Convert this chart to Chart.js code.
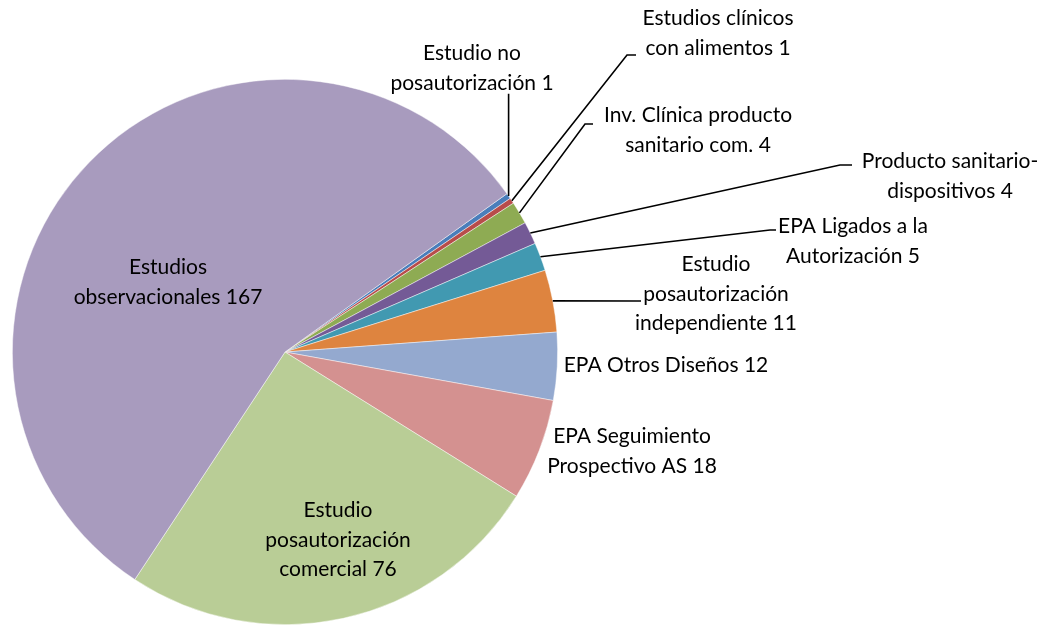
<!DOCTYPE html>
<html>
<head>
<meta charset="utf-8">
<script src="https://cdn.jsdelivr.net/npm/chart.js@4.4.1/dist/chart.umd.min.js"></script>
<style>
  html, body { margin: 0; padding: 0; background: #fff; }
  #wrap { position: relative; width: 1049px; height: 625px; }
</style>
</head>
<body>
<div id="wrap"><canvas id="pieChart"></canvas></div>
<script>
/* ---- data (clockwise from the start angle) ---- */
const categories = [
    'Estudio no posautorización',
    'Estudios clínicos con alimentos',
    'Inv. Clínica producto sanitario com.',
    'Producto sanitario-dispositivos',
    'EPA Ligados a la Autorización',
    'Estudio posautorización independiente',
    'EPA Otros Diseños',
    'EPA Seguimiento Prospectivo AS',
    'Estudio posautorización comercial',
    'Estudios observacionales'
];
const values = [1, 1, 4, 4, 5, 11, 12, 18, 76, 167];
const sliceColors = [
    '#4A7EBB', '#B84C4A', '#8EAB53', '#745A96', '#4199B1',
    '#DE843F', '#94A9CF', '#D49190', '#B9CD96', '#A89BBE'
];

/* ---- label layout: text lines, text centre, optional leader elbow ---- */
const labelLines = [
    ['Estudio no', 'posautorización 1'],
    ['Estudios clínicos', 'con alimentos 1'],
    ['Inv. Clínica producto', 'sanitario com. 4'],
    ['Producto sanitario-', 'dispositivos 4'],
    ['EPA Ligados a la', 'Autorización 5'],
    ['Estudio', 'posautorización', 'independiente 11'],
    ['EPA Otros Diseños 12'],
    ['EPA Seguimiento', 'Prospectivo AS 18'],
    ['Estudio', 'posautorización', 'comercial 76'],
    ['Estudios', 'observacionales 167']
];
const labelCenters = [
    [472, 68], [718, 33], [698, 130], [950, 176], [853, 241],
    [716, 294], [666, 365], [632, 451], [338, 540], [168, 282]
];
// leader: [elbowX, elbowY, endX] or null
const leaders = [
    'vertical', [627, 55, 636], [585, 124, 593], [840, 165, 852], [770, 230, 776],
    [637, 301, 641], null, null, null, null
];

const FONT = '21px Lato, "Open Sans", sans-serif';
const LINE_H = 29.5;

const labelPlugin = {
    id: 'sliceLabels',
    afterDatasetsDraw(chart) {
        const ctx = chart.ctx;
        const meta = chart.getDatasetMeta(0);
        ctx.save();
        ctx.strokeStyle = '#000';
        ctx.lineWidth = 1.6;
        meta.data.forEach((arc, i) => {
            const mid = (arc.startAngle + arc.endAngle) / 2;
            const sx = arc.x + Math.cos(mid) * arc.outerRadius;
            const sy = arc.y + Math.sin(mid) * arc.outerRadius;
            const ld = leaders[i];
            if (ld === 'vertical') {
                ctx.beginPath();
                ctx.moveTo(sx, sy);
                ctx.lineTo(sx, labelCenters[i][1] + LINE_H / 2 + 11);
                ctx.stroke();
            } else if (ld) {
                ctx.beginPath();
                ctx.moveTo(sx, sy);
                ctx.lineTo(ld[0], ld[1]);
                ctx.lineTo(ld[2], ld[1]);
                ctx.stroke();
            }
        });
        ctx.fillStyle = '#000';
        ctx.font = FONT;
        ctx.textAlign = 'center';
        ctx.textBaseline = 'middle';
        labelLines.forEach((lines, i) => {
            const [cx, cy] = labelCenters[i];
            const top = cy - (lines.length - 1) * LINE_H / 2;
            lines.forEach((t, k) => ctx.fillText(t, cx, top + k * LINE_H));
        });
        ctx.restore();
    }
};

new Chart(document.getElementById('pieChart'), {
    type: 'pie',
    data: {
        labels: categories,
        datasets: [{
            data: values,
            backgroundColor: sliceColors,
            borderColor: 'rgba(255,255,255,0.6)',
            borderWidth: 0.75
        }]
    },
    options: {
        responsive: true,
        maintainAspectRatio: false,
        animation: false,
        rotation: 54.5,
        layout: { padding: { left: 12, top: 79, right: 491, bottom: 0 } },
        plugins: {
            legend: { display: false },
            tooltip: { enabled: false }
        }
    },
    plugins: [labelPlugin]
});
</script>
</body>
</html>
